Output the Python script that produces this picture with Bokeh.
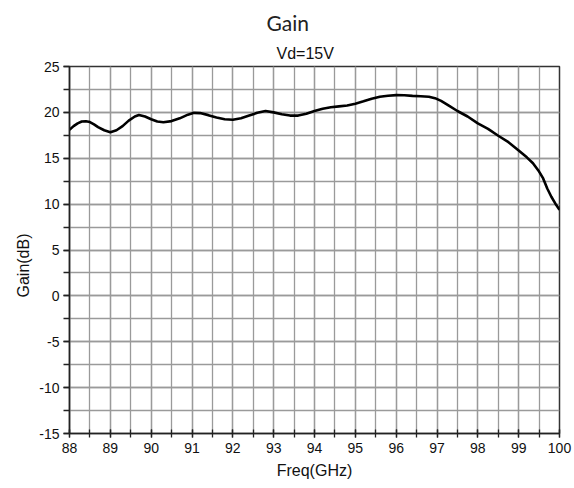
from bokeh.plotting import figure
from bokeh.models import Title, SingleIntervalTicker, Range1d
from bokeh.embed import file_html
from bokeh.resources import INLINE

# Data
freq_ghz = [88.0, 88.1, 88.2, 88.3, 88.4, 88.5, 88.6, 88.7, 88.85, 89.0,
            89.15, 89.3, 89.45, 89.6, 89.7, 89.85, 90.0, 90.15, 90.3, 90.5,
            90.7, 90.9, 91.05, 91.2, 91.4, 91.6, 91.8, 92.0, 92.2, 92.4,
            92.6, 92.8, 93.0, 93.2, 93.4, 93.6, 93.8, 94.0, 94.2, 94.4,
            94.6, 94.8, 95.0, 95.2, 95.4, 95.6, 95.8, 96.0, 96.2, 96.4,
            96.6, 96.8, 96.95, 97.1, 97.3, 97.5, 97.75, 98.0, 98.25, 98.5,
            98.75, 99.0, 99.2, 99.35, 99.5, 99.6, 99.7, 99.8, 99.9, 100.0]
gain_db = [18.1, 18.5, 18.8, 19.0, 19.04, 18.95, 18.7, 18.4, 18.05, 17.84,
           18.05, 18.5, 19.1, 19.55, 19.72, 19.55, 19.25, 19.0, 18.93, 19.05,
           19.35, 19.75, 19.95, 19.92, 19.7, 19.45, 19.25, 19.2, 19.35, 19.65,
           19.95, 20.15, 20.0, 19.8, 19.65, 19.65, 19.85, 20.15, 20.4, 20.55,
           20.65, 20.75, 20.95, 21.2, 21.48, 21.7, 21.82, 21.88, 21.87, 21.8,
           21.75, 21.7, 21.55, 21.25, 20.7, 20.15, 19.55, 18.8, 18.2, 17.45,
           16.75, 15.85, 15.1, 14.45, 13.55, 12.8, 11.7, 10.8, 10.05, 9.38]

y_ticks = [-15, -10, -5, 0, 5, 10, 15, 20, 25]
x_ticks = [88, 89, 90, 91, 92, 93, 94, 95, 96, 97, 98, 99, 100]

main_title = "Gain"
sub_title = "Vd=15V"
x_label = "Freq(GHz)"
y_label = "Gain(dB)"

p = figure(width=574, height=488, output_backend="svg", toolbar_location=None,
           x_range=Range1d(88, 100), y_range=Range1d(-15, 25), title=None,
           min_border_left=69, min_border_right=15, min_border_bottom=55, min_border_top=66)

p.add_layout(Title(text=sub_title, align="left", offset=207, text_font="Liberation Sans",
                   text_font_size="16px", text_font_style="normal", text_color="#111111",
                   standoff=10), "above")
p.add_layout(Title(text=main_title, align="left", offset=197, text_font="Lato",
                   text_font_size="21px", text_font_style="normal", text_color="#222222",
                   standoff=5), "above")

p.line(freq_ghz, gain_db, line_color="black", line_width=2.6)

p.xaxis.ticker = SingleIntervalTicker(interval=1, num_minor_ticks=2)
p.yaxis.ticker = SingleIntervalTicker(interval=5, num_minor_ticks=2)
p.yaxis.major_label_overrides = {v: str(v) for v in y_ticks}
p.xaxis.major_label_overrides = {v: str(v) for v in x_ticks}

for ax in (p.xaxis[0], p.yaxis[0]):
    ax.axis_line_color = "#222222"
    ax.axis_line_width = 1.5
    ax.major_tick_line_color = "#222222"
    ax.minor_tick_line_color = "#222222"
    ax.major_tick_line_width = 1.3
    ax.minor_tick_line_width = 1.3
    ax.major_label_text_font = "Liberation Sans"
    ax.major_label_text_font_size = "14px"
    ax.major_label_text_color = "#111111"
    ax.axis_label_text_font = "Liberation Sans"
    ax.axis_label_text_font_size = "16px"
    ax.axis_label_text_font_style = "normal"
    ax.axis_label_text_color = "#111111"

p.xaxis.axis_label = x_label
p.xaxis.major_tick_in = 4
p.xaxis.major_tick_out = 4
p.xaxis.minor_tick_in = 4
p.xaxis.minor_tick_out = 4
p.yaxis.major_tick_in = 0
p.yaxis.major_tick_out = 6
p.yaxis.minor_tick_in = 0
p.yaxis.minor_tick_out = 6
p.xaxis.major_label_standoff = 5
p.yaxis.major_label_standoff = 4
p.xaxis.axis_label_standoff = 6

p.add_layout(Title(text=y_label, align="left", offset=136, text_font="Liberation Sans",
                   text_font_size="16px", text_font_style="normal", text_color="#111111",
                   standoff=10), "left")

for g in (p.xgrid[0], p.ygrid[0]):
    g.grid_line_color = "#9a9a9a"
    g.grid_line_width = 1.3
    g.minor_grid_line_color = "#9a9a9a"
    g.minor_grid_line_width = 1.3

p.outline_line_color = "#333333"
p.outline_line_width = 1.5
p.background_fill_color = "white"
p.border_fill_color = "white"

open("out.html", "w").write(file_html(p, INLINE))
